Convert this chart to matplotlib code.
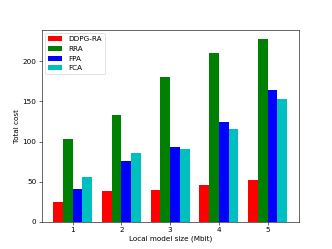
import matplotlib
matplotlib.use("Agg")
import matplotlib.pyplot as plt
import numpy as np

sizes = [1, 2, 3, 4, 5]
ddpg_ra = [24.6, 37.6, 39.7, 45.9, 52.2]
rra = [103.5, 132.8, 180.8, 210.0, 228.0]
fpa = [40.5, 75.2, 93.5, 124.8, 164.1]
fca = [55.1, 85.2, 90.6, 115.2, 152.8]

series = [("DDPG-RA", ddpg_ra, "r"), ("RRA", rra, "g"), ("FPA", fpa, "b"), ("FCA", fca, "c")]

fig = plt.figure(figsize=(6.4, 4.8), dpi=332/6.4)
ax = fig.add_subplot(111)
x = np.array(sizes, dtype=float)
w = 0.2
for i, (name, vals, col) in enumerate(series):
    ax.bar(x + (i - 1.5) * w, vals, w, color=col, label=name)
ax.set_xticks(sizes)
ax.set_xlabel("Local model size (Mbit)")
ax.set_ylabel("Total cost")
ax.legend(loc="upper left")
fig.savefig("out.png", dpi=332/6.4)
